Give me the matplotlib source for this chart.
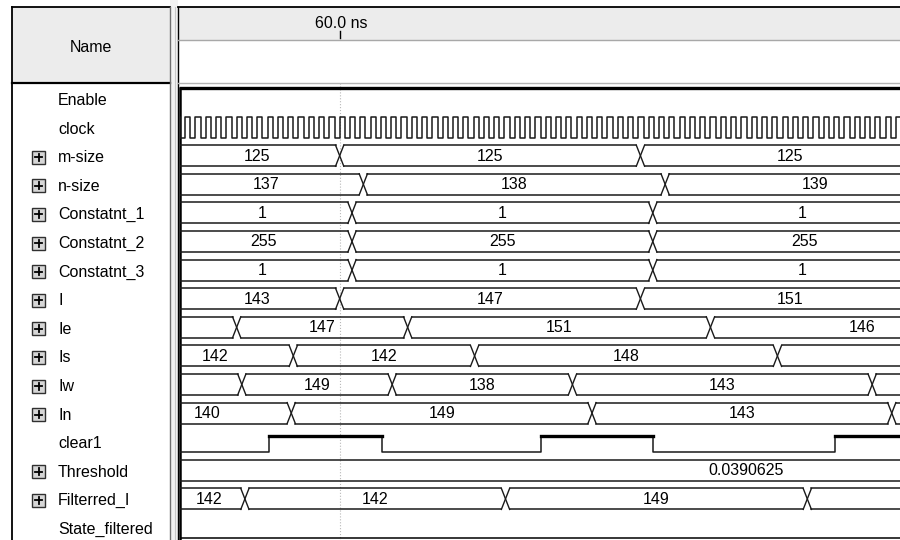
import matplotlib
matplotlib.use('Agg')
import matplotlib.pyplot as plt
from matplotlib.patches import Rectangle
import numpy as np

plt.rcParams['font.family'] = ['Liberation Sans', 'DejaVu Sans']

# Signals, top to bottom
names = ['Enable', 'clock', 'm-size', 'n-size', 'Constatnt_1', 'Constatnt_2',
         'Constatnt_3', 'I', 'Ie', 'Is', 'Iw', 'In', 'clear1', 'Threshold',
         'Filterred_I', 'State_filtered']
expandable = [False, False, True, True, True, True, True, True, True, True,
              True, True, False, True, True, False]

# Time window (ns) and cursor
t_start = 44.5
t_end = 114.4
cursor_t = 60.0
cursor_label = '60.0 ns'

# Single-bit signals
enable_level = 1
state_filtered_level = 0
clock_period = 1.0
clock_first_rise = 45.0
clear1_start = 0
clear1_t = [53.1, 64.1, 79.5, 90.4, 108.1]

# Bus signals: transition times (ns) and the values in between
msize_t = [43.9, 60.0, 89.2, 118.3]
msize_v = ['125', '125', '125']
nsize_t = [43.5, 62.3, 91.6, 120.7]
nsize_v = ['137', '138', '139']
c1_t = [43.8, 61.2, 90.4, 119.5]
c1_v = ['1', '1', '1']
c2_t = [44.1, 61.2, 90.4, 119.9]
c2_v = ['255', '255', '255']
c3_t = [43.8, 61.2, 90.4, 119.5]
c3_v = ['1', '1', '1']
i_t = [43.9, 60.0, 89.2, 118.3]
i_v = ['143', '147', '151']
ie_t = [35.0, 50.0, 66.6, 96.0, 125.5]
ie_v = ['', '147', '151', '146']
is_t = [40.3, 55.5, 73.1, 102.5, 132.0]
is_v = ['142', '142', '148', '']
iw_t = [35.0, 50.5, 65.1, 82.6, 111.7, 125.0]
iw_v = ['', '149', '138', '143', '']
in_t = [39.0, 55.3, 84.5, 113.6, 125.0]
in_v = ['140', '149', '143', '']
thr_t = [40.0, 159.0]
thr_v = ['0.0390625']
filt_t = [43.8, 50.8, 76.1, 105.4, 130.0]
filt_v = ['142', '142', '149', '']

buses = {
    'm-size': (msize_t, msize_v),
    'n-size': (nsize_t, nsize_v),
    'Constatnt_1': (c1_t, c1_v),
    'Constatnt_2': (c2_t, c2_v),
    'Constatnt_3': (c3_t, c3_v),
    'I': (i_t, i_v),
    'Ie': (ie_t, ie_v),
    'Is': (is_t, is_v),
    'Iw': (iw_t, iw_v),
    'In': (in_t, in_v),
    'Threshold': (thr_t, thr_v),
    'Filterred_I': (filt_t, filt_v),
}

## Look
W, H = 900, 540
row0 = 100.0
row_h = 28.6
half = 10.5        # bus half height (px)
xw = 0.4           # half width of a bus crossing (ns)
fs = 11.5
wc = '#1a1a1a'

fig = plt.figure(figsize=(9, 5.4), dpi=100)
fig.patch.set_facecolor('white')

# pixel axes for the window frame
base = fig.add_axes([0, 0, 1, 1])
base.set_xlim(0, W)
base.set_ylim(H, 0)
base.axis('off')

# left "Name" panel
base.add_patch(Rectangle((12, 7), 158, 76, fc='#ececec', ec='none'))
base.plot([12, 12], [7, H], color='black', lw=1.3)
base.plot([12, 170], [7, 7], color='black', lw=1.3)
base.plot([12, 170], [83, 83], color='black', lw=1.6)
base.plot([170, 170], [7, H], color='#707070', lw=1.0)
base.text(91, 47, 'Name', ha='center', va='center', fontsize=fs)

# splitter
base.add_patch(Rectangle((170, 0), 8, H, fc='#f2f2f2', ec='none'))
base.plot([174.5, 174.5], [7, H], color='#c8c8c8', lw=0.8)

# right panel header
base.add_patch(Rectangle((178, 7), W - 178, 33, fc='#ececec', ec='none'))
base.plot([178, W], [7, 7], color='black', lw=1.3)
base.plot([178, 178], [7, H], color='black', lw=1.0)
base.plot([178, W], [40, 40], color='#a8a8a8', lw=1.0)
base.plot([178, W], [83, 83], color='#b4b4b4', lw=1.0)
base.plot([180, 180], [88, H], color='black', lw=1.8)

# waveform axes: x in ns, y in pixels
wave = fig.add_axes([180 / W, 0, (W - 180) / W, 1])
wave.set_xlim(t_start, t_end)
wave.set_ylim(H, 0)
wave.axis('off')

# cursor
wave.plot([cursor_t, cursor_t], [83, H], color='#b8b8b8', lw=0.8, ls=':', zorder=0)
wave.plot([cursor_t, cursor_t], [31, 38], color='black', lw=1.0)
wave.text(cursor_t + 0.2, 24, cursor_label, ha='center', va='center', fontsize=fs)


def draw_bus(ax, yc, times, vals):
    top, bot = yc - half, yc + half
    for k, v in enumerate(vals):
        a, b = times[k], times[k + 1]
        ax.plot([a + xw, b - xw], [top, top], color=wc, lw=1.1)
        ax.plot([a + xw, b - xw], [bot, bot], color=wc, lw=1.1)
        if v:
            ax.text((a + b) / 2, yc + 0.5, v, ha='center', va='center',
                    fontsize=fs, clip_on=True)
    for t in times:
        ax.plot([t - xw, t + xw], [top, bot], color=wc, lw=1.0)
        ax.plot([t - xw, t + xw], [bot, top], color=wc, lw=1.0)


for i, name in enumerate(names):
    ry = row0 + row_h * i
    yc = ry - 1.5

    # name column
    base.text(58, ry + 0.5, name, ha='left', va='center', fontsize=fs)
    if expandable[i]:
        base.add_patch(Rectangle((32, ry - 6.5), 13, 13, fc='#d6d6d6',
                                 ec='#303030', lw=1.0))
        base.plot([35, 42], [ry, ry], color='black', lw=1.3)
        base.plot([38.5, 38.5], [ry - 3.5, ry + 3.5], color='black', lw=1.3)

    if name in buses:
        draw_bus(wave, yc, *buses[name])
    elif name == 'Enable':
        y = yc - half if enable_level else yc + half
        wave.plot([t_start, t_end], [y, y], color='black', lw=2.4)
    elif name == 'State_filtered':
        y = yc - half if state_filtered_level else yc + half
        wave.plot([t_start, t_end], [y, y], color='black', lw=1.1)
    elif name == 'clock':
        edges = np.arange(clock_first_rise - clock_period, t_end + clock_period,
                          clock_period / 2)
        levels = np.where(np.arange(len(edges)) % 2 == 0, 1, 0)
        ys = np.where(levels == 1, yc - half, yc + half)
        wave.step(edges, ys, where='post', color=wc, lw=1.1)
    elif name == 'clear1':
        hi_y, lo_y = yc - 6.0, yc + 10.5
        tt = [t_start - 1] + clear1_t + [t_end + 1]
        lv = [clear1_start]
        for _ in clear1_t:
            lv.append(1 - lv[-1])
        ys = [hi_y if v else lo_y for v in lv]
        wave.step(tt, ys + [ys[-1]], where='post', color=wc, lw=1.1)
        for k, v in enumerate(lv):
            if v:
                wave.plot([tt[k], tt[k + 1]], [hi_y, hi_y], color='black', lw=2.4)

fig.savefig('out.png', dpi=100, facecolor='white')
